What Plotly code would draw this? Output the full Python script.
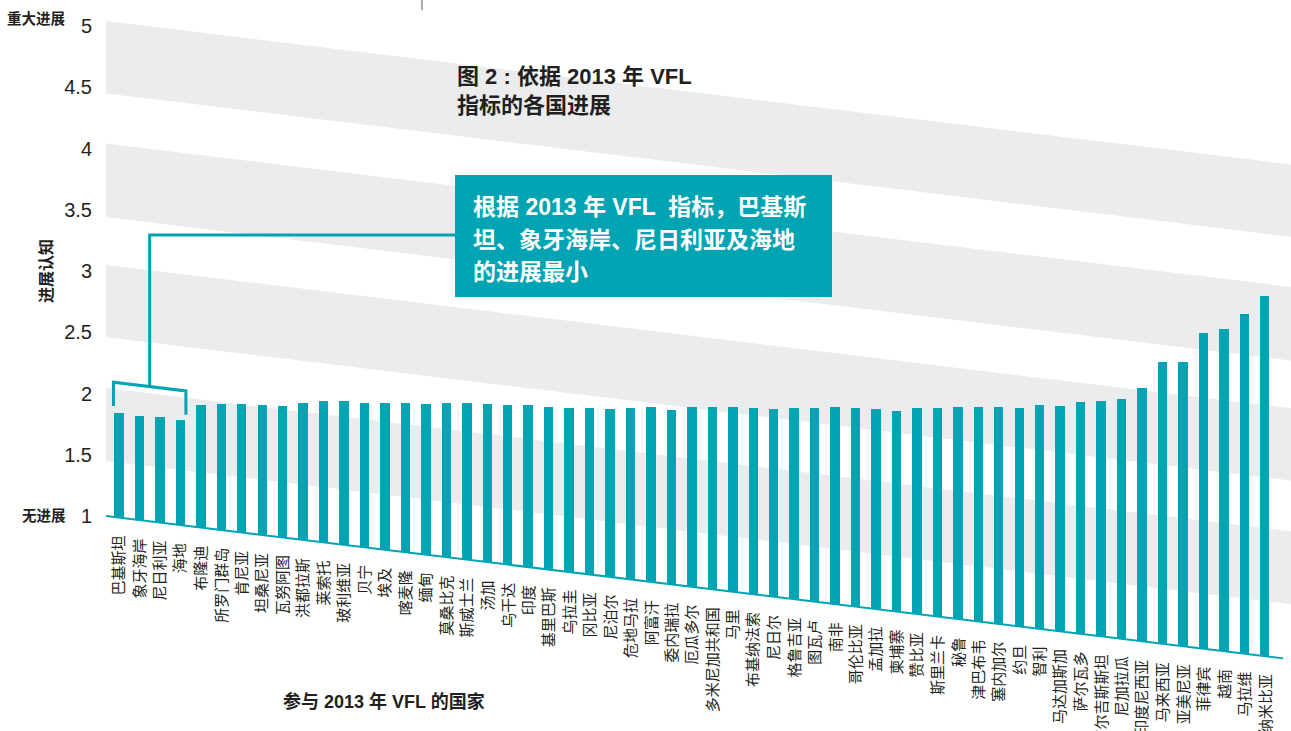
import plotly.graph_objects as go

# ---------------- data ----------------
countries = [
    "巴基斯坦", "象牙海岸", "尼日利亚", "海地", "布隆迪", "所罗门群岛", "肯尼亚", "坦桑尼亚",
    "瓦努阿图", "洪都拉斯", "莱索托", "玻利维亚", "贝宁", "埃及", "喀麦隆", "缅甸",
    "莫桑比克", "斯威士兰", "汤加", "乌干达", "印度", "基里巴斯", "乌拉圭", "冈比亚",
    "尼泊尔", "危地马拉", "阿富汗", "委内瑞拉", "厄瓜多尔", "多米尼加共和国", "马里",
    "布基纳法索", "尼日尔", "格鲁吉亚", "图瓦卢", "南非", "哥伦比亚", "孟加拉", "柬埔寨",
    "赞比亚", "斯里兰卡", "秘鲁", "津巴布韦", "塞内加尔", "约旦", "智利", "马达加斯加",
    "萨尔瓦多", "吉尔吉斯斯坦", "尼加拉瓜", "印度尼西亚", "马来西亚", "亚美尼亚", "菲律宾",
    "越南", "马拉维", "纳米比亚",
]
progress = [
    1.85, 1.85, 1.86, 1.86, 2.00, 2.03, 2.05, 2.06, 2.07, 2.12,
    2.15, 2.17, 2.18, 2.20, 2.22, 2.23, 2.26, 2.28, 2.29, 2.30,
    2.32, 2.33, 2.34, 2.36, 2.37, 2.40, 2.43, 2.42, 2.47, 2.49,
    2.51, 2.52, 2.53, 2.56, 2.58, 2.61, 2.62, 2.63, 2.64, 2.68,
    2.70, 2.73, 2.75, 2.77, 2.78, 2.83, 2.84, 2.89, 2.92, 2.96,
    3.07, 3.30, 3.32, 3.58, 3.63, 3.77, 3.94,
]
tick_vals = [1, 1.5, 2, 2.5, 3, 3.5, 4, 4.5, 5]
tick_text = ["1", "1.5", "2", "2.5", "3", "3.5", "4", "4.5", "5"]
band_tops = [5.04, 4.04, 3.05, 2.045]
band_bottoms = [4.45, 3.44, 2.46, 1.45]

# ---------------- style / geometry ----------------
TEAL = "#00A4B2"
BAND = "#EBECED"
INK = "#231F20"
CJK = "Liberation Sans, Noto Sans CJK SC, sans-serif"

W, H = 1291, 731
ML, MR, MT, MB = 106, 0, 0, 66
PW, PH = W - ML - MR, H - MT - MB
STEP_PX = 20.46            # px per category
UNIT_PX = 122.5            # px per progress unit
X0 = -0.635                # left edge of plot in category units
X1 = X0 + PW / STEP_PX
Y_BOT = 1 - (PH - 516) / UNIT_PX
Y_TOP = Y_BOT + PH / UNIT_PX
SKEW = 0.0202              # shear of the whole drawing (units per category)


def off(i):
    return SKEW * (i - X0)


def xd(px):
    return (px - ML - 13) / STEP_PX


def yd(py):
    return 1 + (516 - py) / UNIT_PX


def xp(px):
    return (px - ML) / PW


def yp(py):
    return 1 - (py - MT) / PH


idx = list(range(len(countries)))
fig = go.Figure(go.Bar(
    x=idx,
    y=[v - 1 for v in progress],
    base=[1 - off(i) for i in idx],
    width=0.46,
    marker=dict(color=TEAL, line=dict(width=0)),
    hoverinfo="skip",
))

shapes = []
# slanted grey bands
for t, b in zip(band_tops, band_bottoms):
    xa, xb = X0, X1 + 1
    path = (f"M {xa},{t - off(xa)} L {xb},{t - off(xb)} "
            f"L {xb},{b - off(xb)} L {xa},{b - off(xa)} Z")
    shapes.append(dict(type="path", path=path, xref="x", yref="y",
                       fillcolor=BAND, line=dict(width=0), layer="below"))
# slanted baseline
bx0, bx1 = X0, len(countries) - 0.1
shapes.append(dict(type="line", xref="x", yref="y", x0=bx0, y0=1 - off(bx0),
                   x1=bx1, y1=1 - off(bx1), line=dict(color=TEAL, width=2)))
# bracket over the four lowest countries
top4 = max(progress[:4])
br_v, stub_v = top4 + 0.24, top4 + 0.045
bl, brr = -0.27, 3.27
bracket = (f"M {bl},{stub_v - off(bl)} L {bl},{br_v - off(bl)} "
           f"L {brr},{br_v - off(brr)} L {brr},{stub_v - off(brr)}")
shapes.append(dict(type="path", path=bracket, xref="x", yref="y",
                   line=dict(color=TEAL, width=3)))
# connector from bracket to call-out box
cx = 1.5
conn_y = yd(235)
box_left = xd(455)
shapes.append(dict(type="path", xref="x", yref="y",
                   path=f"M {cx},{br_v - off(cx)} L {cx},{conn_y} L {box_left},{conn_y}",
                   line=dict(color=TEAL, width=3)))
# call-out box
shapes.append(dict(type="rect", xref="paper", yref="paper",
                   x0=xp(455), x1=xp(832), y0=yp(297), y1=yp(175),
                   fillcolor=TEAL, line=dict(width=0)))
# small crop mark at top
shapes.append(dict(type="line", xref="paper", yref="paper",
                   x0=xp(422), x1=xp(422), y0=yp(0), y1=yp(10),
                   line=dict(color="#555555", width=1)))

annotations = []
# rotated country labels following the slanted baseline
for i, name in enumerate(countries):
    annotations.append(dict(
        x=i, y=1 - off(i), xref="x", yref="y", text=name, showarrow=False,
        textangle=-90, xanchor="center", yanchor="top", yshift=-16,
        font=dict(family=CJK, size=15, color=INK),
    ))
# axis end labels
annotations.append(dict(x=0, xref="paper", y=5, yref="y", text="<b>重大进展</b>",
                        showarrow=False, xanchor="right", xshift=-38, yshift=7,
                        font=dict(family=CJK, size=14.5, color=INK)))
annotations.append(dict(x=0, xref="paper", y=1, yref="y", text="<b>无进展</b>",
                        showarrow=False, xanchor="right", xshift=-38, yshift=0,
                        font=dict(family=CJK, size=14.5, color=INK)))
annotations.append(dict(x=0, xref="paper", y=yd(271), yref="y", text="<b>进展认知</b>",
                        showarrow=False, xanchor="center", xshift=-60, textangle=-90,
                        font=dict(family=CJK, size=16, color=INK)))
# x-axis title
annotations.append(dict(x=xp(384), xref="paper", y=yp(701), yref="paper",
                        text="<b>参与 2013 年 VFL 的国家</b>", showarrow=False,
                        xanchor="center", yanchor="middle",
                        font=dict(family=CJK, size=18, color=INK)))
# chart title
annotations.append(dict(x=xp(455), xref="paper", y=yp(91), yref="paper",
                        text="<b>图 2 : 依据 2013 年 VFL</b><br><b>指标的各国进展</b>",
                        showarrow=False, xanchor="left", yanchor="middle", align="left",
                        font=dict(family=CJK, size=22, color=INK)))
# call-out text
box_lines = ["根据 2013 年 VFL  指标，巴基斯", "坦、象牙海岸、尼日利亚及海地", "的进展最小"]
for line, yy in zip(box_lines, [207, 240, 272]):
    annotations.append(dict(x=xp(471), xref="paper", y=yp(yy), yref="paper",
                            text=f"<b>{line}</b>", showarrow=False,
                            xanchor="left", yanchor="middle",
                            font=dict(family=CJK, size=23, color="white")))

fig.update_layout(
    width=W, height=H, autosize=False,
    margin=dict(l=ML, r=MR, t=MT, b=MB, pad=0),
    paper_bgcolor="white", plot_bgcolor="white",
    showlegend=False, bargap=0,
    shapes=shapes, annotations=annotations,
    xaxis=dict(range=[X0, X1], showticklabels=False, showgrid=False,
               zeroline=False, showline=False, ticks="", fixedrange=True),
    yaxis=dict(range=[Y_BOT, Y_TOP], tickvals=tick_vals, ticktext=tick_text,
               showgrid=False, zeroline=False, showline=False,
               ticks="outside", ticklen=9, tickcolor="rgba(0,0,0,0)",
               tickfont=dict(family="Liberation Sans, Arial, sans-serif", size=20, color=INK),
               fixedrange=True),
)

fig.write_html("out.html", config={"displayModeBar": False},
               post_script="document.body.style.margin='0';document.body.style.overflow='hidden';")
